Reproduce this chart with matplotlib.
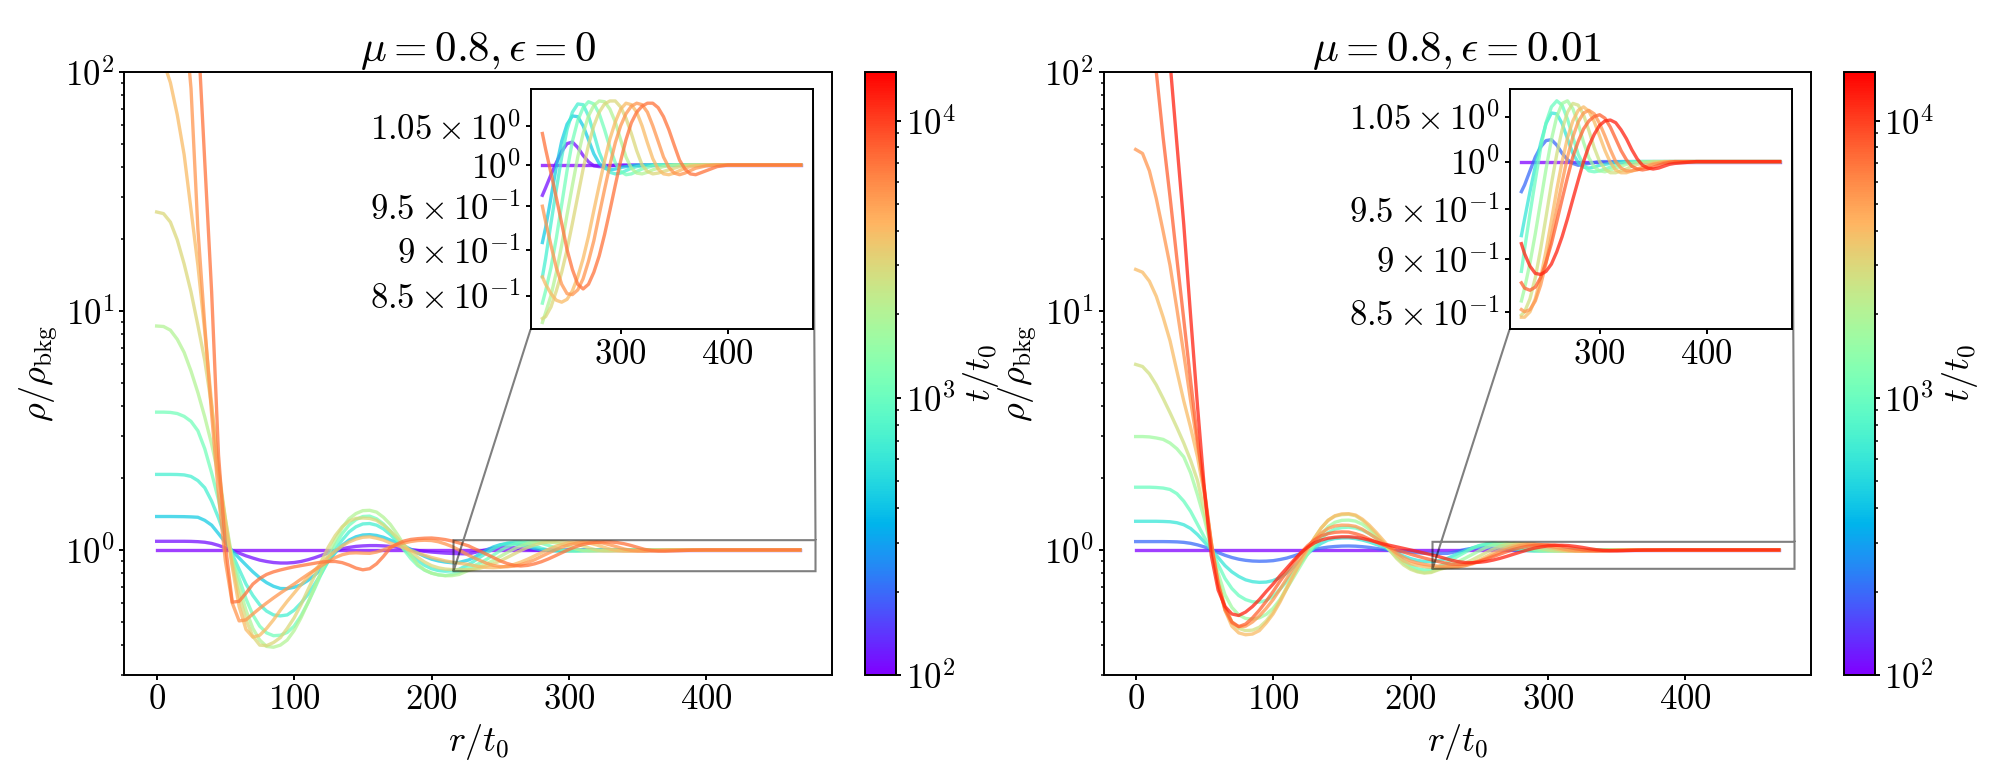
import numpy as np
import matplotlib
matplotlib.use("Agg")
import matplotlib.pyplot as plt
from matplotlib.colors import LogNorm
from matplotlib.cm import ScalarMappable
from matplotlib.ticker import FixedLocator, FixedFormatter, NullLocator

plt.rcParams['mathtext.fontset'] = 'cm'
plt.rcParams['font.family'] = 'serif'
plt.rcParams['font.serif'] = ['cmr10']
plt.rcParams['axes.formatter.use_mathtext'] = True
plt.rcParams['axes.linewidth'] = 1.4
plt.rcParams['xtick.major.width'] = 1.4
plt.rcParams['ytick.major.width'] = 1.4
plt.rcParams['xtick.minor.width'] = 1.1
plt.rcParams['ytick.minor.width'] = 1.1

# ---------------- data ----------------
r_seg_a = [0, 5, 10, 15, 20, 25, 30, 35, 40, 45, 50, 55, 60, 65, 70, 75, 80, 85, 90]
r_seg_b = [95, 100, 105, 110, 115, 120, 125, 130, 135, 140, 145, 150, 155, 160, 165, 170, 175,
           180, 185, 190, 195, 200, 205, 210, 215, 220]
r_seg_c = [227, 230, 235, 240, 245, 250, 255, 260, 265, 270, 275, 280, 285, 290, 295,
           300, 305, 310, 315, 320, 325, 330, 335, 340, 345, 350, 355, 360, 365, 370]
r_seg_d = [380, 390, 400, 420, 440, 468]
r_over_t0 = r_seg_a + r_seg_b + r_seg_c + r_seg_d

# colour-bar range (t/t0)
t_min, t_max = 100, 15000

# ---- mu = 0.8, eps = 0 ----
times_eps0 = [100, 112, 450, 700, 1100, 2000, 3000, 4000, 5500, 7000]

e0_c1 = [1.0] * 19 + [1.0] * 26 + [1.0] * 30 + [1.0] * 6
e0_c2 = ([1.087, 1.087, 1.087, 1.087, 1.087, 1.086, 1.083, 1.077, 1.065, 1.045, 1.02, 0.995, 0.97, 0.945, 0.925, 0.907, 0.895, 0.886, 0.882]
         + [0.882, 0.886, 0.895, 0.91, 0.928, 0.95, 0.973, 0.995, 1.012, 1.025, 1.035, 1.04, 1.043, 1.043, 1.04, 1.035, 1.026,
            1.015, 1.005, 0.995, 0.987, 0.98, 0.975, 0.97, 0.967, 0.965]
         + [0.963, 0.972, 0.988, 1.003, 1.017, 1.027, 1.029, 1.022, 1.012, 1.004, 0.999, 0.998, 0.998, 0.999, 1.0,
            1.0, 1.0, 1.0, 1.0, 1.0, 1.0, 1.0, 1.0, 1.0, 1.0, 1.0, 1.0, 1.0, 1.0, 1.0]
         + [1.0, 1.0, 1.0, 1.0, 1.0, 1.0])
e0_c3 = ([1.38, 1.38, 1.38, 1.379, 1.378, 1.375, 1.37, 1.33, 1.27, 1.17, 1.075, 0.99, 0.925, 0.865, 0.81, 0.765, 0.73, 0.705, 0.69]
         + [0.689, 0.698, 0.715, 0.745, 0.785, 0.835, 0.9, 0.975, 1.045, 1.1, 1.135, 1.155, 1.159, 1.15, 1.13, 1.1, 1.07,
            1.04, 1.005, 0.97, 0.94, 0.915, 0.9, 0.89, 0.884, 0.887]
         + [0.908, 0.925, 0.96, 0.998, 1.03, 1.052, 1.063, 1.062, 1.05, 1.032, 1.014, 1.002, 0.996, 0.994, 0.995,
            0.997, 0.998, 0.999, 1.0, 1.0, 1.0, 1.0, 1.0, 1.0, 1.0, 1.0, 1.0, 1.0, 1.0, 1.0]
         + [1.0, 1.0, 1.0, 1.0, 1.0, 1.0])
e0_c4 = ([2.07, 2.07, 2.07, 2.068, 2.06, 2.03, 1.95, 1.82, 1.6, 1.36, 1.13, 0.96, 0.83, 0.72, 0.645, 0.59, 0.555, 0.535, 0.53]
         + [0.535, 0.56, 0.6, 0.65, 0.72, 0.8, 0.9, 1.0, 1.1, 1.19, 1.25, 1.285, 1.29, 1.27, 1.225, 1.16, 1.085,
            1.01, 0.95, 0.9, 0.862, 0.835, 0.82, 0.815, 0.818, 0.83]
         + [0.87, 0.89, 0.93, 0.97, 1.01, 1.045, 1.068, 1.079, 1.078, 1.063, 1.04, 1.016, 1.0, 0.991, 0.989,
            0.99, 0.993, 0.996, 0.998, 0.999, 1.0, 1.0, 1.0, 1.0, 1.0, 1.0, 1.0, 1.0, 1.0, 1.0]
         + [1.0, 1.0, 1.0, 1.0, 1.0, 1.0])
e0_c5 = ([3.77, 3.77, 3.76, 3.72, 3.62, 3.45, 3.15, 2.65, 2.1, 1.62, 1.2, 0.94, 0.76, 0.625, 0.535, 0.48, 0.45, 0.438, 0.44]
         + [0.452, 0.48, 0.53, 0.6, 0.69, 0.8, 0.92, 1.05, 1.17, 1.27, 1.34, 1.38, 1.385, 1.35, 1.285, 1.2, 1.1,
            1.0, 0.92, 0.86, 0.823, 0.8, 0.787, 0.782, 0.79, 0.805]
         + [0.842, 0.855, 0.88, 0.913, 0.952, 0.993, 1.03, 1.057, 1.074, 1.082, 1.079, 1.066, 1.045, 1.022, 1.003,
            0.992, 0.988, 0.989, 0.992, 0.995, 0.997, 0.999, 1.0, 1.0, 1.0, 1.0, 1.0, 1.0, 1.0, 1.0]
         + [1.0, 1.0, 1.0, 1.0, 1.0, 1.0])
e0_c6 = ([8.64, 8.6, 8.3, 7.6, 6.7, 5.6, 4.55, 3.6, 2.77, 2.05, 1.35, 0.92, 0.7, 0.56, 0.47, 0.42, 0.395, 0.392, 0.4]
         + [0.42, 0.46, 0.52, 0.6, 0.7, 0.82, 0.96, 1.1, 1.24, 1.35, 1.42, 1.46, 1.465, 1.44, 1.37, 1.28, 1.165,
            1.05, 0.95, 0.87, 0.825, 0.8, 0.787, 0.78, 0.781, 0.79]
         + [0.822, 0.832, 0.85, 0.875, 0.905, 0.94, 0.975, 1.01, 1.04, 1.063, 1.077, 1.083, 1.082, 1.072, 1.055,
            1.032, 1.01, 0.996, 0.99, 0.989, 0.991, 0.994, 0.996, 0.998, 0.999, 1.0, 1.0, 1.0, 1.0, 1.0]
         + [1.0, 1.0, 1.0, 1.0, 1.0, 1.0])
e0_c7 = ([25.9, 25.5, 23.5, 19.8, 15.7, 12.0, 8.7, 6.2, 4.0, 2.2, 1.35, 0.88, 0.64, 0.51, 0.435, 0.4, 0.398, 0.41, 0.43]
         + [0.47, 0.52, 0.59, 0.68, 0.78, 0.9, 1.03, 1.15, 1.25, 1.32, 1.355, 1.36, 1.355, 1.33, 1.27, 1.2, 1.125,
            1.05, 0.985, 0.93, 0.89, 0.86, 0.842, 0.832, 0.828, 0.828]
         + [0.826, 0.828, 0.838, 0.855, 0.875, 0.9, 0.93, 0.962, 0.995, 1.025, 1.05, 1.068, 1.079, 1.083, 1.083,
            1.075, 1.06, 1.04, 1.018, 1.0, 0.992, 0.989, 0.99, 0.992, 0.994, 0.996, 0.998, 0.999, 1.0, 1.0]
         + [1.0, 1.0, 1.0, 1.0, 1.0, 1.0])
e0_c8 = ([115, 110, 90, 66, 45, 26.5, 15.5, 8.2, 4.1, 2.1, 1.3, 0.85, 0.58, 0.465, 0.432, 0.44, 0.47, 0.51, 0.56]
         + [0.61, 0.66, 0.715, 0.77, 0.825, 0.88, 0.935, 0.99, 1.04, 1.08, 1.11, 1.13, 1.135, 1.12, 1.1, 1.07, 1.045,
            1.02, 0.995, 0.97, 0.95, 0.93, 0.915, 0.9, 0.89, 0.88]
         + [0.87, 0.862, 0.852, 0.845, 0.843, 0.846, 0.855, 0.87, 0.89, 0.915, 0.945, 0.975, 1.005, 1.033, 1.055,
            1.072, 1.08, 1.078, 1.068, 1.05, 1.028, 1.008, 0.995, 0.989, 0.988, 0.99, 0.993, 0.996, 0.998, 0.999]
         + [1.0, 1.0, 1.0, 1.0, 1.0, 1.0])
e0_c9 = ([300, 295, 260, 225, 180, 85, 22, 8.7, 3.7, 1.7, 0.9, 0.6, 0.505, 0.51, 0.54, 0.57, 0.6, 0.63, 0.66]
         + [0.69, 0.72, 0.755, 0.79, 0.825, 0.86, 0.895, 0.93, 0.955, 0.97, 0.973, 0.97, 0.968, 0.98, 1.0, 1.03, 1.05,
            1.07, 1.085, 1.095, 1.098, 1.095, 1.082, 1.06, 1.033, 1.0]
         + [0.95, 0.932, 0.905, 0.88, 0.862, 0.852, 0.851, 0.856, 0.868, 0.887, 0.91, 0.94, 0.97, 1.0, 1.028,
            1.05, 1.066, 1.076, 1.08, 1.078, 1.068, 1.05, 1.03, 1.01, 0.997, 0.99, 0.988, 0.99, 0.993, 0.996]
         + [0.999, 1.0, 1.0, 1.0, 1.0, 1.0])
e0_c10 = ([500, 495, 450, 400, 350, 260, 150, 42, 12, 2.5, 1.05, 0.605, 0.61, 0.66, 0.72, 0.76, 0.79, 0.81, 0.825]
          + [0.838, 0.85, 0.86, 0.87, 0.88, 0.89, 0.895, 0.895, 0.885, 0.865, 0.84, 0.826, 0.835, 0.875, 0.94, 1.02, 1.06,
             1.09, 1.107, 1.115, 1.12, 1.122, 1.115, 1.105, 1.09, 1.07]
          + [1.04, 1.02, 0.99, 0.96, 0.93, 0.9, 0.878, 0.862, 0.857, 0.862, 0.875, 0.893, 0.917, 0.945, 0.975,
             1.005, 1.032, 1.054, 1.068, 1.076, 1.08, 1.08, 1.074, 1.062, 1.045, 1.025, 1.006, 0.995, 0.989, 0.988]
          + [0.993, 0.998, 1.0, 1.0, 1.0, 1.0])

# ---- mu = 0.8, eps = 0.01 ----
times_eps001 = [100, 200, 600, 1000, 1700, 2700, 4000, 5500, 8000, 12000]

e1_c1 = [1.0] * 19 + [1.0] * 26 + [1.0] * 30 + [1.0] * 6
e1_c2 = ([1.084, 1.084, 1.084, 1.084, 1.084, 1.083, 1.081, 1.076, 1.066, 1.05, 1.03, 1.003, 0.975, 0.95, 0.93, 0.915, 0.905, 0.899, 0.897]
         + [0.898, 0.902, 0.912, 0.925, 0.944, 0.965, 0.986, 1.005, 1.018, 1.028, 1.034, 1.038, 1.039, 1.037, 1.032, 1.025, 1.015,
            1.005, 0.997, 0.99, 0.984, 0.978, 0.974, 0.97, 0.968, 0.967]
         + [0.968, 0.975, 0.99, 1.005, 1.016, 1.023, 1.024, 1.018, 1.009, 1.002, 0.998, 0.996, 0.997, 0.998, 0.999,
            1.0, 1.0, 1.0, 1.0, 1.0, 1.0, 1.0, 1.0, 1.0, 1.0, 1.0, 1.0, 1.0, 1.0, 1.0]
         + [1.0, 1.0, 1.0, 1.0, 1.0, 1.0])
e1_c3 = ([1.318, 1.318, 1.318, 1.318, 1.316, 1.312, 1.3, 1.275, 1.23, 1.16, 1.08, 1.005, 0.93, 0.86, 0.81, 0.775, 0.75, 0.737, 0.732]
         + [0.734, 0.745, 0.766, 0.8, 0.848, 0.905, 0.962, 1.02, 1.065, 1.1, 1.116, 1.122, 1.123, 1.115, 1.1, 1.08, 1.055,
            1.03, 1.0, 0.97, 0.943, 0.92, 0.905, 0.895, 0.893, 0.9]
         + [0.923, 0.94, 0.968, 0.995, 1.02, 1.042, 1.054, 1.053, 1.042, 1.025, 1.009, 0.999, 0.994, 0.993, 0.994,
            0.996, 0.997, 0.998, 0.999, 1.0, 1.0, 1.0, 1.0, 1.0, 1.0, 1.0, 1.0, 1.0, 1.0, 1.0]
         + [1.0, 1.0, 1.0, 1.0, 1.0, 1.0])
e1_c4 = ([1.83, 1.83, 1.83, 1.825, 1.815, 1.79, 1.72, 1.6, 1.45, 1.28, 1.13, 1.005, 0.87, 0.76, 0.69, 0.645, 0.62, 0.607, 0.605]
         + [0.615, 0.64, 0.685, 0.74, 0.805, 0.88, 0.96, 1.04, 1.115, 1.18, 1.222, 1.24, 1.245, 1.235, 1.21, 1.17, 1.12,
            1.06, 1.0, 0.95, 0.9, 0.86, 0.835, 0.825, 0.83, 0.85]
         + [0.888, 0.91, 0.945, 0.98, 1.015, 1.043, 1.061, 1.068, 1.063, 1.047, 1.027, 1.008, 0.996, 0.99, 0.989,
            0.99, 0.992, 0.994, 0.996, 0.998, 0.999, 1.0, 1.0, 1.0, 1.0, 1.0, 1.0, 1.0, 1.0, 1.0]
         + [1.0, 1.0, 1.0, 1.0, 1.0, 1.0])
e1_c5 = ([2.98, 2.98, 2.97, 2.94, 2.9, 2.8, 2.65, 2.45, 2.1, 1.7, 1.35, 1.02, 0.8, 0.65, 0.575, 0.535, 0.517, 0.514, 0.52]
         + [0.538, 0.57, 0.62, 0.69, 0.77, 0.86, 0.96, 1.06, 1.16, 1.25, 1.305, 1.33, 1.333, 1.32, 1.28, 1.22, 1.15,
            1.07, 0.995, 0.93, 0.88, 0.84, 0.815, 0.805, 0.81, 0.83]
         + [0.86, 0.872, 0.896, 0.925, 0.958, 0.992, 1.024, 1.05, 1.065, 1.068, 1.059, 1.042, 1.021, 1.004, 0.994,
            0.99, 0.989, 0.991, 0.993, 0.995, 0.997, 0.998, 0.999, 1.0, 1.0, 1.0, 1.0, 1.0, 1.0, 1.0]
         + [1.0, 1.0, 1.0, 1.0, 1.0, 1.0])
e1_c6 = ([5.97, 5.85, 5.45, 4.9, 4.3, 3.75, 3.25, 2.8, 2.37, 1.95, 1.45, 1.04, 0.75, 0.58, 0.5, 0.47, 0.46, 0.462, 0.475]
         + [0.505, 0.55, 0.615, 0.7, 0.795, 0.9, 1.01, 1.12, 1.235, 1.33, 1.385, 1.405, 1.41, 1.39, 1.33, 1.25, 1.165,
            1.08, 0.995, 0.92, 0.865, 0.83, 0.81, 0.8, 0.805, 0.825]
         + [0.847, 0.85, 0.862, 0.882, 0.91, 0.942, 0.976, 1.008, 1.035, 1.055, 1.065, 1.063, 1.052, 1.034, 1.015,
            1.0, 0.992, 0.988, 0.988, 0.99, 0.992, 0.995, 0.997, 0.998, 0.999, 1.0, 1.0, 1.0, 1.0, 1.0]
         + [1.0, 1.0, 1.0, 1.0, 1.0, 1.0])
e1_c7 = ([14.9, 14.5, 13.3, 11.5, 9.4, 7.5, 5.6, 4.2, 3.25, 2.45, 1.7, 1.08, 0.72, 0.56, 0.48, 0.45, 0.442, 0.445, 0.46]
         + [0.495, 0.54, 0.605, 0.69, 0.785, 0.89, 1.005, 1.12, 1.235, 1.33, 1.39, 1.415, 1.418, 1.4, 1.345, 1.27, 1.185,
            1.1, 1.02, 0.95, 0.9, 0.875, 0.862, 0.852, 0.846, 0.844]
         + [0.845, 0.845, 0.85, 0.862, 0.882, 0.908, 0.938, 0.97, 1.0, 1.026, 1.045, 1.057, 1.061, 1.056, 1.044,
            1.028, 1.012, 0.999, 0.991, 0.988, 0.988, 0.99, 0.992, 0.994, 0.996, 0.998, 0.999, 1.0, 1.0, 1.0]
         + [1.0, 1.0, 1.0, 1.0, 1.0, 1.0])
e1_c8 = ([47.3, 45.5, 38.5, 29.5, 21.5, 15.5, 10.2, 6.6, 4.2, 2.75, 1.8, 1.08, 0.73, 0.56, 0.495, 0.478, 0.48, 0.5, 0.53]
         + [0.57, 0.62, 0.685, 0.76, 0.845, 0.93, 1.02, 1.1, 1.175, 1.23, 1.26, 1.27, 1.268, 1.255, 1.22, 1.17, 1.12,
            1.07, 1.02, 0.97, 0.93, 0.9, 0.882, 0.87, 0.862, 0.856]
         + [0.852, 0.85, 0.852, 0.86, 0.875, 0.896, 0.922, 0.95, 0.978, 1.005, 1.027, 1.044, 1.054, 1.057, 1.053,
            1.042, 1.028, 1.013, 1.0, 0.993, 0.99, 0.99, 0.991, 0.993, 0.995, 0.997, 0.998, 0.999, 1.0, 1.0]
         + [1.0, 1.0, 1.0, 1.0, 1.0, 1.0])
e1_c9 = ([250, 240, 170, 100, 53, 30, 16.5, 9.2, 5.1, 2.9, 1.75, 1.05, 0.72, 0.57, 0.5, 0.478, 0.49, 0.52, 0.56]
         + [0.61, 0.67, 0.74, 0.81, 0.89, 0.97, 1.04, 1.1, 1.145, 1.17, 1.185, 1.19, 1.188, 1.17, 1.145, 1.11, 1.08,
            1.05, 1.025, 1.0, 0.98, 0.96, 0.942, 0.925, 0.91, 0.895]
         + [0.877, 0.872, 0.87, 0.873, 0.882, 0.897, 0.915, 0.937, 0.96, 0.983, 1.005, 1.022, 1.036, 1.045, 1.05,
            1.052, 1.048, 1.038, 1.025, 1.012, 1.002, 0.995, 0.992, 0.991, 0.992, 0.994, 0.996, 0.998, 0.999, 1.0]
         + [1.0, 1.0, 1.0, 1.0, 1.0, 1.0])
e1_c10 = ([500, 490, 420, 330, 250, 110, 50, 23, 9.5, 4.0, 1.8, 0.95, 0.68, 0.58, 0.54, 0.532, 0.55, 0.58, 0.62]
          + [0.67, 0.72, 0.78, 0.84, 0.905, 0.97, 1.025, 1.07, 1.1, 1.12, 1.13, 1.135, 1.135, 1.13, 1.117, 1.1, 1.08,
             1.06, 1.045, 1.03, 1.015, 1.0, 0.985, 0.97, 0.955, 0.94]
          + [0.915, 0.905, 0.893, 0.886, 0.885, 0.888, 0.895, 0.907, 0.922, 0.94, 0.96, 0.98, 1.0, 1.017, 1.03,
             1.04, 1.045, 1.046, 1.043, 1.035, 1.025, 1.013, 1.003, 0.996, 0.993, 0.992, 0.993, 0.995, 0.997, 0.998]
          + [0.999, 1.0, 1.0, 1.0, 1.0, 1.0])

curves_eps0 = [e0_c1, e0_c2, e0_c3, e0_c4, e0_c5, e0_c6, e0_c7, e0_c8, e0_c9, e0_c10]
curves_eps001 = [e1_c1, e1_c2, e1_c3, e1_c4, e1_c5, e1_c6, e1_c7, e1_c8, e1_c9, e1_c10]

inset_yticks = [0.85, 0.9, 0.95, 1.0, 1.05]
inset_yticklabels = [r'$8.5\times10^{-1}$', r'$9\times10^{-1}$', r'$9.5\times10^{-1}$',
                     r'$10^{0}$', r'$1.05\times10^{0}$']
inset_xticks = [300, 400]
titles = [r'$\mu = 0.8, \epsilon = 0$', r'$\mu = 0.8, \epsilon = 0.01$']
inset_ylims = [(0.815, 1.099), (0.834, 1.0815)]

# ---------------- figure ----------------
W, H = 2006, 782
fig = plt.figure(figsize=(W / 100, H / 100), dpi=100)

def fx(px):
    return px / W

ax_bottom = (H - 675) / H
ax_height = (675 - 71.7) / H
ax_w = fx(707.5)
axes_left = [fx(124.5), fx(1103.5)]
cbar_left = [fx(864.8), fx(1843.5)]
cbar_w = fx(31)

LW = 2.4
ALPHA = 0.75
FS_TICK = 25
FS_LABEL = 26
FS_TITLE = 31

r_arr = np.array(r_over_t0, dtype=float)
norm = LogNorm(vmin=t_min, vmax=t_max)
cmap = plt.get_cmap('rainbow')

for k, (times, curves) in enumerate([(times_eps0, curves_eps0), (times_eps001, curves_eps001)]):
    ax = fig.add_axes([axes_left[k], ax_bottom, ax_w, ax_height])
    cax = fig.add_axes([cbar_left[k], ax_bottom, cbar_w, ax_height])
    axins = ax.inset_axes([0.574, 0.573, 0.399, 0.398])
    mask = r_arr >= 227
    for t, vals in zip(times, curves):
        v = np.array(vals, dtype=float)
        assert len(v) == len(r_arr), (k, t, len(v))
        col = cmap(norm(t))
        ax.plot(r_arr, v, color=col, lw=LW, alpha=ALPHA)
        axins.plot(r_arr[mask], v[mask], color=col, lw=LW, alpha=ALPHA)

    ax.set_yscale('log')
    ax.set_ylim(0.3, 100)
    ax.set_xlim(-23.4, 491.4)
    ax.set_xticks([0, 100, 200, 300, 400])
    ax.tick_params(labelsize=FS_TICK)
    ax.set_xlabel(r'$r/t_0$', fontsize=FS_LABEL)
    ax.set_ylabel(r'$\rho/\rho_{\rm bkg}$', fontsize=FS_LABEL)
    ax.set_title(titles[k], fontsize=FS_TITLE)

    axins.set_yscale('log')
    axins.set_xlim(216, 479.4)
    axins.set_ylim(*inset_ylims[k])
    axins.yaxis.set_major_locator(FixedLocator(inset_yticks))
    axins.yaxis.set_major_formatter(FixedFormatter(inset_yticklabels))
    axins.yaxis.set_minor_locator(NullLocator())
    axins.set_xticks(inset_xticks)
    axins.tick_params(labelsize=FS_TICK)

    ax.indicate_inset_zoom(axins, edgecolor='black', alpha=0.5, linewidth=1.5)

    sm = ScalarMappable(norm=norm, cmap=cmap)
    cb = fig.colorbar(sm, cax=cax)
    cb.set_label(r'$t/t_0$', fontsize=FS_LABEL, labelpad=4)
    cb.ax.tick_params(labelsize=FS_TICK)

fig.savefig('out.png', dpi=100)
